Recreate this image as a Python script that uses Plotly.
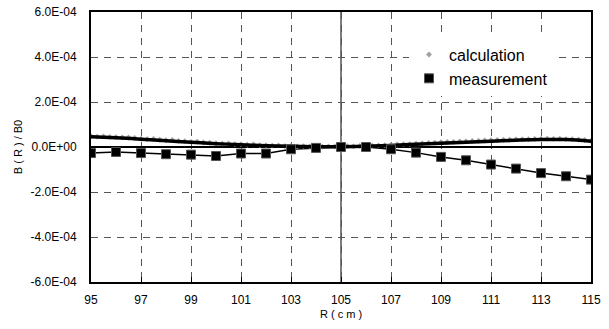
import plotly.graph_objects as go

# ---- data ----
calc_r = [95.00, 95.25, 95.50, 95.75, 96.00, 96.25, 96.50, 96.75, 97.00, 97.25,
          97.50, 97.75, 98.00, 98.25, 98.50, 98.75, 99.00, 99.25, 99.50, 99.75,
          100.00, 100.25, 100.50, 100.75, 101.00, 101.25, 101.50, 101.75, 102.00, 102.25,
          102.50, 102.75, 103.00, 103.25, 103.50, 103.75, 104.00, 104.25, 104.50, 104.75,
          105.00, 105.25, 105.50, 105.75, 106.00, 106.25, 106.50, 106.75, 107.00, 107.25,
          107.50, 107.75, 108.00, 108.25, 108.50, 108.75, 109.00, 109.25, 109.50, 109.75,
          110.00, 110.25, 110.50, 110.75, 111.00, 111.25, 111.50, 111.75, 112.00, 112.25,
          112.50, 112.75, 113.00, 113.25, 113.50, 113.75, 114.00, 114.25, 114.50, 114.75,
          115.00]
calc_b = [4.8e-5, 4.6e-5, 4.7e-5, 4.5e-5, 4.4e-5, 4.3e-5, 4.2e-5, 4.0e-5, 3.6e-5, 3.5e-5,
          3.6e-5, 3.2e-5, 3.0e-5, 3.1e-5, 2.7e-5, 2.6e-5, 2.3e-5, 2.4e-5, 2.0e-5, 1.9e-5,
          1.7e-5, 1.5e-5, 1.6e-5, 1.3e-5, 1.2e-5, 1.0e-5, 1.1e-5, 0.8e-5, 0.8e-5, 0.6e-5,
          0.7e-5, 0.4e-5, 0.5e-5, 0.3e-5, 0.4e-5, 0.2e-5, 0.3e-5, 0.1e-5, 0.3e-5, 0.2e-5,
          0.2e-5, 0.4e-5, 0.3e-5, 0.5e-5, 0.4e-5, 0.6e-5, 0.7e-5, 0.8e-5, 0.9e-5, 1.1e-5,
          1.2e-5, 1.3e-5, 1.5e-5, 1.6e-5, 1.8e-5, 1.9e-5, 2.1e-5, 2.2e-5, 2.3e-5, 2.5e-5,
          2.5e-5, 2.7e-5, 2.8e-5, 2.9e-5, 3.0e-5, 3.1e-5, 3.2e-5, 3.2e-5, 3.4e-5, 3.4e-5,
          3.5e-5, 3.6e-5, 3.6e-5, 3.7e-5, 3.6e-5, 3.7e-5, 3.5e-5, 3.5e-5, 3.3e-5, 3.1e-5,
          2.8e-5]

trend_r = [95, 96, 97, 98, 99, 100, 101, 102, 103, 104, 105,
           106, 107, 108, 109, 110, 111, 112, 113, 114, 115]
trend_b = [4.6e-5, 4.1e-5, 3.5e-5, 2.8e-5, 2.1e-5, 1.5e-5, 1.0e-5, 0.6e-5, 0.3e-5, 0.1e-5, 0.1e-5,
           0.3e-5, 0.7e-5, 1.2e-5, 1.7e-5, 2.1e-5, 2.6e-5, 3.0e-5, 3.3e-5, 3.3e-5, 2.6e-5]

meas_r = [95, 96, 97, 98, 99, 100, 101, 102, 103, 104, 105,
          106, 107, 108, 109, 110, 111, 112, 113, 114, 115]
meas_b = [-2.7e-5, -2.2e-5, -2.7e-5, -3.2e-5, -3.4e-5, -4.0e-5, -2.9e-5, -2.9e-5, -1.0e-5, -0.4e-5, 0.0,
          0.0, -1.0e-5, -2.5e-5, -4.4e-5, -5.9e-5, -7.8e-5, -9.6e-5, -11.6e-5, -13.0e-5, -14.5e-5]

x_ticks = [95, 97, 99, 101, 103, 105, 107, 109, 111, 113, 115]
y_ticks = [-6e-4, -4e-4, -2e-4, 0, 2e-4, 4e-4, 6e-4]
y_tick_text = ["-6.0E-04", "-4.0E-04", "-2.0E-04", "0.0E+00", "2.0E-04", "4.0E-04", "6.0E-04"]

FONT = "Liberation Sans, Arial, sans-serif"

fig = go.Figure()

# measurement connecting line
fig.add_trace(go.Scatter(x=meas_r, y=meas_b, mode="lines", line=dict(color="black", width=1.5),
                         showlegend=False, hoverinfo="skip"))
# calculation markers
fig.add_trace(go.Scatter(x=calc_r, y=calc_b, mode="markers", name="calculation",
                         marker=dict(symbol="diamond", size=4.5, color="#a0a0a0", line=dict(width=0))))
# thick smooth line through calculation
fig.add_trace(go.Scatter(x=trend_r, y=trend_b, mode="lines", line=dict(color="black", width=3.5, shape="spline"),
                         showlegend=False, hoverinfo="skip"))
# measurement markers
fig.add_trace(go.Scatter(x=meas_r, y=meas_b, mode="markers", name="measurement",
                         marker=dict(symbol="square", size=9, color="black", line=dict(width=1, color="#555"))))

fig.add_vline(x=105, line=dict(color="#555", width=1.5), layer="below")

fig.update_layout(
    width=609, height=329,
    margin=dict(l=91, r=18, t=12, b=47, autoexpand=False),
    paper_bgcolor="white", plot_bgcolor="white",
    font=dict(family=FONT, color="black", size=12),
    legend=dict(x=0.636, y=0.905, xanchor="left", yanchor="top", bgcolor="white",
                font=dict(size=16, family=FONT), itemwidth=30, traceorder="normal"),
    xaxis=dict(range=[95, 115], tickvals=x_ticks, showgrid=True, gridcolor="#555",
               griddash="7px,6px", gridwidth=1, showline=True, linecolor="black", linewidth=2,
               mirror=True, ticks="inside", ticklen=5, tickcolor="black", zeroline=False,
               ticklabelstandoff=6, tickfont=dict(size=12), automargin=False,
               ticklabeloverflow="allow",
               title=dict(text="R ( c m )", font=dict(size=11), standoff=4)),
    yaxis=dict(range=[-6e-4, 6e-4], tickvals=y_ticks, ticktext=y_tick_text, showgrid=True,
               gridcolor="#555", griddash="7px,6px", gridwidth=1, showline=True, linecolor="black",
               linewidth=2, mirror=True, ticks="", zeroline=True, zerolinecolor="black",
               zerolinewidth=1.5, ticklabelstandoff=10, tickfont=dict(size=12), automargin=False,
               ticklabeloverflow="allow",
               title=dict(text="B ( R ) / B0", font=dict(size=11), standoff=6)),
)

# remove the browser's default 8px body margin so the figure fills the window exactly
fig.write_html("out.html", config={"displayModeBar": False},
               post_script="document.body.style.margin='0';")
